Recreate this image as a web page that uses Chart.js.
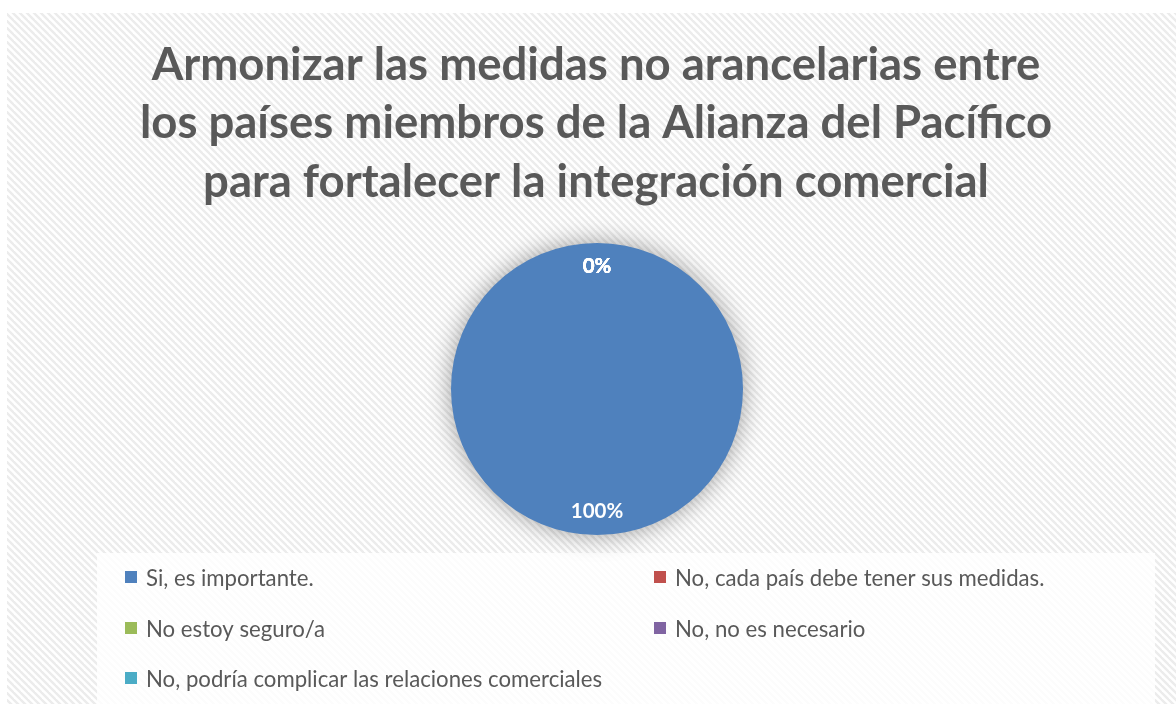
<!DOCTYPE html>
<html>
<head>
<meta charset="utf-8">
<script src="https://cdn.jsdelivr.net/npm/chart.js@4.4.1/dist/chart.umd.min.js"></script>
<style>
html,body{margin:0;padding:0;background:#fff;}
#wrap{position:relative;width:1176px;height:704px;}
</style>
</head>
<body>
<div id="wrap"><canvas id="c" width="1176" height="704"></canvas></div>
<script>
const titleLines = [
  "Armonizar las medidas no arancelarias entre",
  "los países miembros de la Alianza del Pacífico",
  "para fortalecer la integración comercial"
];
const categories = [
  "Si, es importante.",
  "No, cada país debe tener sus medidas.",
  "No estoy seguro/a",
  "No, no es necesario",
  "No, podría complicar las relaciones comerciales"
];
const values = [100, 0, 0, 0, 0];
const colors = ["#4F81BD", "#C0504D", "#9BBB59", "#8064A2", "#4BACC6"];

function makePattern(ctx) {
  const p = document.createElement('canvas');
  p.width = 7; p.height = 7;
  const g = p.getContext('2d');
  g.fillStyle = '#ffffff';
  g.fillRect(0, 0, 7, 7);
  g.strokeStyle = '#ececec';
  g.lineWidth = 2.4;
  for (let k = -7; k <= 14; k += 7) {
    g.beginPath();
    g.moveTo(k - 7, -7);
    g.lineTo(k + 14, 14);
    g.stroke();
  }
  return ctx.createPattern(p, 'repeat');
}

const bgPlugin = {
  id: 'bg',
  beforeDraw(chart) {
    const ctx = chart.ctx;
    ctx.save();
    ctx.fillStyle = '#ffffff';
    ctx.fillRect(0, 0, chart.width, chart.height);
    ctx.fillStyle = makePattern(ctx);
    ctx.fillRect(7, 13, chart.width - 7, chart.height - 13);
    // legend box
    ctx.fillStyle = 'rgba(255,255,255,0.85)';
    ctx.fillRect(97, 553, 1058, chart.height - 553);
    // title
    ctx.fillStyle = '#595959';
    ctx.font = 'bold 45.5px Lato';
    ctx.textAlign = 'center';
    ctx.textBaseline = 'alphabetic';
    const base = [80, 138, 197];
    titleLines.forEach((t, i) => ctx.fillText(t, 596, base[i]));
    ctx.restore();
  },
  beforeDatasetsDraw(chart) {
    const arc = chart.getDatasetMeta(0).data[0];
    if (!arc) return;
    const ctx = chart.ctx;
    ctx.save();
    ctx.shadowColor = 'rgba(0,0,0,0.4)';
    ctx.shadowBlur = 26;
    ctx.fillStyle = colors[0];
    ctx.beginPath();
    ctx.arc(arc.x, arc.y, arc.outerRadius - 1, 0, Math.PI * 2);
    ctx.fill();
    ctx.restore();
  },
  afterDatasetsDraw(chart) {
    const ctx = chart.ctx;
    const meta = chart.getDatasetMeta(0);
    const data = chart.data.datasets[0].data;
    const total = data.reduce((a, b) => a + b, 0);
    ctx.save();
    ctx.fillStyle = '#ffffff';
    ctx.font = 'bold 20.5px Lato';
    ctx.textAlign = 'center';
    ctx.textBaseline = 'middle';
    meta.data.forEach((a, i) => {
      const mid = (a.startAngle + a.endAngle) / 2;
      const r = a.outerRadius * 0.84;
      const x = a.x + Math.cos(mid) * r;
      const y = a.y + Math.sin(mid) * r;
      ctx.fillText(Math.round(data[i] / total * 100) + '%', x, y);
    });
    ctx.restore();
  },
  afterDraw(chart) {
    const ctx = chart.ctx;
    const items = chart.data.labels;
    const colX = [125, 654];
    const rowY = [586, 637, 687];
    ctx.save();
    ctx.font = '22.2px Lato';
    ctx.textAlign = 'left';
    ctx.textBaseline = 'alphabetic';
    items.forEach((lab, i) => {
      const cx = colX[i % 2], by = rowY[Math.floor(i / 2)];
      ctx.fillStyle = colors[i];
      ctx.fillRect(cx, by - 15, 12, 12);
      ctx.fillStyle = '#595959';
      ctx.fillText(lab, cx + 21, by);
    });
    ctx.restore();
  }
};

new Chart(document.getElementById('c'), {
  type: 'pie',
  data: {
    labels: categories,
    datasets: [{
      data: values,
      backgroundColor: colors,
      borderWidth: 0
    }]
  },
  options: {
    responsive: false,
    animation: false,
    layout: { padding: { top: 243, bottom: 169, left: 300, right: 282 } },
    plugins: {
      legend: { display: false },
      title: { display: false },
      tooltip: { enabled: false }
    }
  },
  plugins: [bgPlugin]
});
</script>
</body>
</html>
